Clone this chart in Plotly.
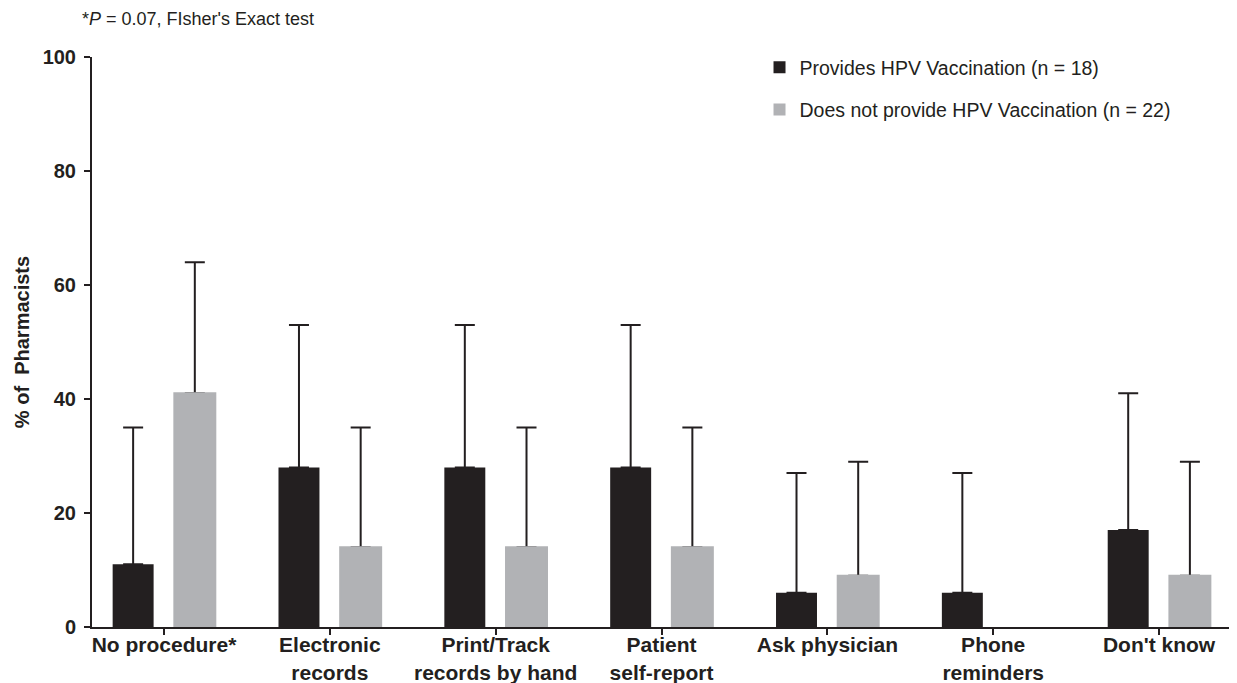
import plotly.graph_objects as go

categories = ["No procedure*", "Electronic<br>records", "Print/Track<br>records by hand",
              "Patient<br>self-report", "Ask physician", "Phone<br>reminders", "Don't know"]
provides = [11, 28, 28, 28, 6, 6, 17]
provides_upper = [35, 53, 53, 53, 27, 27, 41]
not_provides = [41, 14, 14, 14, 9, 0, 9]
not_provides_upper = [64, 35, 35, 35, 29, None, 29]

name_a = "Provides HPV Vaccination (n = 18)"
name_b = "Does not provide HPV Vaccination (n = 22)"

err_a = [u - v for u, v in zip(provides_upper, provides)]
# a zero-height bar with no interval is left undrawn (no cap at the baseline)
y_b = [v if u is not None else None for u, v in zip(not_provides_upper, not_provides)]
err_b = [(u - v) if u is not None else None for u, v in zip(not_provides_upper, not_provides)]

FONT = "Liberation Sans, Arial, sans-serif"
INK = "#231f20"
GREY = "#b1b2b5"
xs = list(range(len(categories)))

fig = go.Figure()
fig.add_trace(go.Bar(
    x=xs, y=provides, name=name_a, offsetgroup="a",
    marker=dict(color=INK, line=dict(width=0)), legendgroup="a",
    error_y=dict(type="data", array=err_a, symmetric=False,
                 color=INK, thickness=2, width=10),
))
fig.add_trace(go.Bar(
    x=xs, y=y_b, name=name_b, offsetgroup="b",
    marker=dict(color=GREY, line=dict(width=0)), legendgroup="b",
    error_y=dict(type="data", array=err_b, symmetric=False,
                 color=INK, thickness=2, width=10),
))
# same grey bars again on top, hiding the error bar's lower cap at the bar top
fig.add_trace(go.Bar(
    x=xs, y=y_b, name=name_b, offsetgroup="b", showlegend=False,
    hoverinfo="skip", legendgroup="b",
    marker=dict(color=GREY, line=dict(width=2, color=GREY)),
))

# page body has an 8px default margin, so the figure is sized/placed to compensate
fig.update_layout(
    width=1229, height=675,
    margin=dict(l=84, r=2, t=49, b=56),
    paper_bgcolor="white", plot_bgcolor="white",
    barmode="group", bargap=0.256, bargroupgap=0.336,
    font=dict(family=FONT, color=INK),
    showlegend=True,
    legend=dict(x=0.584, y=1.0158, xanchor="left", yanchor="top",
                font=dict(size=19.5, family=FONT, color=INK),
                tracegroupgap=14, traceorder="grouped",
                bgcolor="rgba(0,0,0,0)"),
    xaxis=dict(
        tickmode="array", tickvals=xs, ticktext=categories,
        range=[-0.434, 6.458], showgrid=False, zeroline=False, automargin=False,
        showline=True, linecolor=INK, linewidth=2,
        ticks="outside", ticklen=6, tickwidth=2, tickcolor=INK,
        ticklabelstandoff=-8,
        tickfont=dict(size=21, family=FONT, color=INK, weight="bold"),
    ),
    yaxis=dict(
        range=[0, 100], tickvals=[0, 20, 40, 60, 80, 100],
        showgrid=False, zeroline=False, automargin=False,
        showline=True, linecolor=INK, linewidth=2,
        ticks="outside", ticklen=6, tickwidth=2, tickcolor=INK,
        ticklabelstandoff=4,
        tickfont=dict(size=20, family=FONT, color=INK, weight="bold"),
        title=dict(text="% of  Pharmacists", standoff=8,
                   font=dict(size=20, family=FONT, color=INK, weight="bold")),
    ),
    annotations=[dict(
        text="*<i>P</i> = 0.07, FIsher's Exact test",
        xref="paper", yref="paper", x=-0.0105, y=1.0667,
        xanchor="left", yanchor="middle", showarrow=False,
        font=dict(size=18, family=FONT, color=INK),
    )],
)

fig.write_html("out.html")
